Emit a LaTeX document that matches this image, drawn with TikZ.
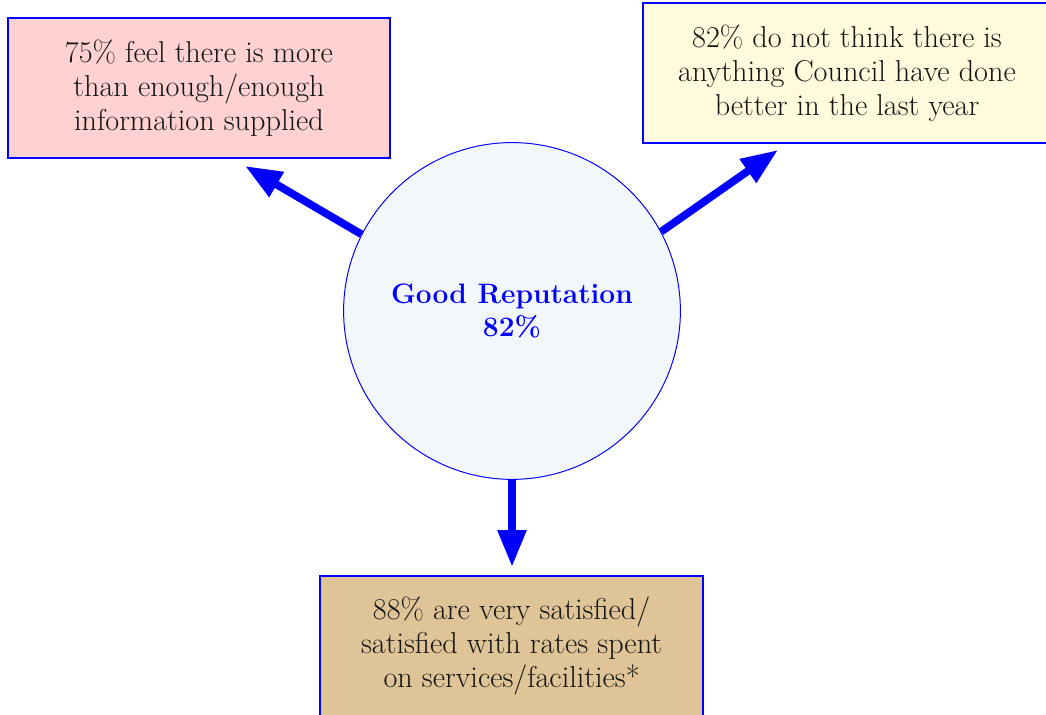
\documentclass[tikz,border=0pt]{standalone}
\usepackage{tikz}
\usetikzlibrary{positioning,arrows.meta}
\usepackage{xcolor}
\definecolor{infofill}{RGB}{255,209,209}
\definecolor{betterfill}{RGB}{255,251,220}
\definecolor{ratesfill}{RGB}{222,196,150}
\definecolor{repfill}{RGB}{242,247,252}

\begin{document}
\begin{tikzpicture}[
	box/.style={draw=blue,line width=1.4pt,align=center,text=black!92,minimum height=3.5cm,font=\fontsize{21.5}{24}\selectfont},
	bigarrow/.style={-{Triangle[length=0.92cm,width=0.68cm]},line width=5.5pt,blue}]
		
		\useasboundingbox (0,0) rectangle (26.15,17.875);
		
		\node[circle,draw=blue,fill=repfill,line width=0.7pt,minimum size=8.42cm,
		text=blue,align=center,font=\fontsize{20}{24}\selectfont\bfseries]
		(rep) at (12.8,10.1)
		{Good Reputation\\82\%};
		
		\node[box,fill=infofill,minimum width=9.55cm]
		(info) at (4.975,15.675)
		{75\% feel there is more\\than enough/enough\\information supplied};
		
		\node[box,fill=betterfill,minimum width=10.2cm]
		(better) at (21.175,16.04)
		{82\% do not think there is\\anything Council have done\\better in the last year};
		
		\node[box,fill=ratesfill,minimum width=9.575cm]
		(rates) at (12.79,1.725)
		{88\% are very satisfied/\\satisfied with rates spent\\on services/facilities*};
		
		% arrow ends stop short of the boxes
		\coordinate (infotip) at (6.125,13.725);
		\coordinate (bettertip) at (19.45,14.125);
		\coordinate (ratestip) at (12.8,3.7);
		
		\draw[bigarrow] (rep.153)--(infotip);
		\draw[bigarrow] (rep.28)--(bettertip);
		\draw[bigarrow] (rep.south)--(ratestip);
		
	\end{tikzpicture}
\end{document}
